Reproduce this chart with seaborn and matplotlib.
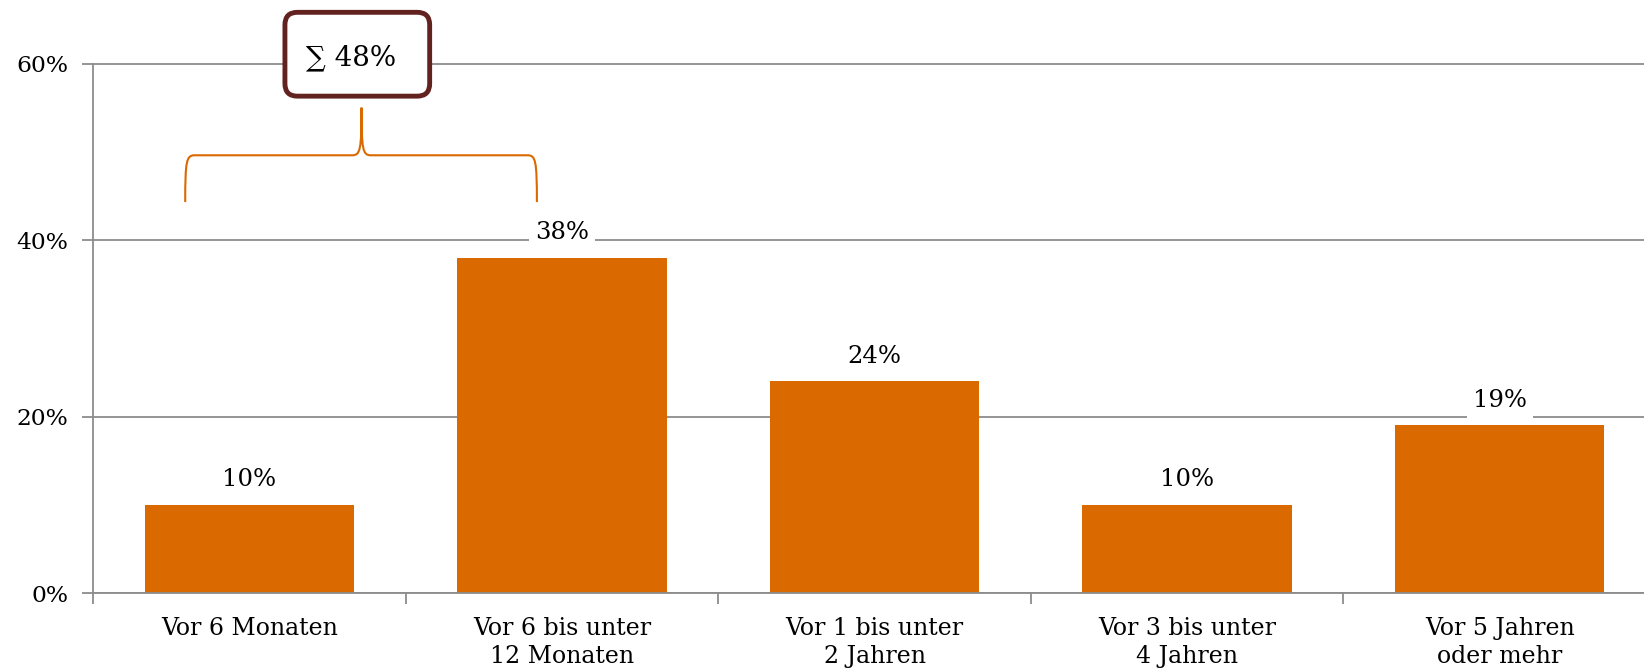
import matplotlib
matplotlib.use("Agg")
import matplotlib.pyplot as plt
import seaborn as sns
import pandas as pd
from matplotlib.patches import FancyBboxPatch, PathPatch
from matplotlib.path import Path

categories = ["Vor 6 Monaten", "Vor 6 bis unter\n12 Monaten", "Vor 1 bis unter\n2 Jahren",
              "Vor 3 bis unter\n4 Jahren", "Vor 5 Jahren\noder mehr"]
values = [10, 38, 24, 10, 19]
yticks = [0, 20, 40, 60]
ytick_labels = ["0%", "20%", "40%", "60%"]
sum_label = "∑ 48%"

sns.set_theme(style="white")
plt.rcParams['font.family'] = ['DejaVu Serif', 'DejaVu Sans']
plt.rcParams['text.color'] = 'black'
plt.rcParams['xtick.color'] = 'black'
plt.rcParams['ytick.color'] = 'black'

BAR = "#DA6900"
GRID = "#8C8C8C"

fig = plt.figure(figsize=(16.44, 6.68), dpi=100)
ax = fig.add_axes([93/1644, 75/668, 1563/1644, 593/668])

df = pd.DataFrame({"cat": categories, "val": values})
sns.barplot(data=df, x="cat", y="val", color=BAR, saturation=1, width=0.67, ax=ax,
            zorder=2, linewidth=0)

ax.set_xlim(-0.5, 4.5)
ax.set_ylim(0, 593/8.825)
ax.set_yticks(yticks)
ax.set_yticklabels(ytick_labels, fontsize=16.8)
ax.yaxis.grid(True, color=GRID, lw=1.3, zorder=0)
ax.set_axisbelow(True)
for s in ["top", "right"]:
    ax.spines[s].set_visible(False)
for s in ["left", "bottom"]:
    ax.spines[s].set_color(GRID)
    ax.spines[s].set_linewidth(1.3)
ax.spines["left"].set_bounds(0, 60)
ax.tick_params(axis="y", length=8, width=1.3, color=GRID, labelcolor="black", pad=10, left=True)
ax.set_xticks(range(len(categories)))
ax.set_xticklabels(categories, fontsize=17, linespacing=1.3)
ax.tick_params(axis="x", length=0, pad=17, labelcolor="black")
ax.set_xticks([i - 0.5 for i in range(len(categories) + 1)], minor=True)
ax.tick_params(axis="x", which="minor", length=8, width=1.3, color=GRID, bottom=True)
ax.set_xlabel("")
ax.set_ylabel("")

for i, v in enumerate(values):
    ax.annotate(f"{v}%", (i, v), xytext=(0, 18), textcoords="offset points",
                ha="center", va="center", fontsize=17.5, zorder=3, color="black",
                bbox=dict(boxstyle="square,pad=0.25", fc="white", ec="none"))

# brace
x0, x1, xc = -0.205, 0.92, 0.359
yb, yh, yp = 44.3, 49.6, 55.0
verts = [(x0, yb), (x0, yh - 0.6), (x0 + 0.004, yh), (x0 + 0.03, yh),
         (xc - 0.03, yh), (xc - 0.004, yh), (xc, yh + 0.6), (xc, yp),
         (xc, yh + 0.6), (xc + 0.004, yh), (xc + 0.03, yh),
         (x1 - 0.03, yh), (x1 - 0.004, yh), (x1, yh - 0.6), (x1, yb)]
codes = [Path.MOVETO, Path.CURVE4, Path.CURVE4, Path.CURVE4,
         Path.LINETO, Path.CURVE4, Path.CURVE4, Path.CURVE4,
         Path.CURVE4, Path.CURVE4, Path.CURVE4,
         Path.LINETO, Path.CURVE4, Path.CURVE4, Path.CURVE4]
ax.add_patch(PathPatch(Path(verts, codes), fill=False, ec=BAR, lw=1.5, zorder=4, clip_on=False))

# sum box
bx0, bx1 = 0.114, 0.577
by0, by1 = 56.3, 65.8
box = FancyBboxPatch((bx0, by0), bx1 - bx0, by1 - by0,
                     boxstyle="round,pad=0,rounding_size=0.04", mutation_aspect=35.4,
                     fc="white", ec="#612220", lw=3.5, zorder=5, clip_on=False)
ax.add_patch(box)
ax.text((bx0 + bx1) / 2 - 0.02, 60.6, sum_label, ha="center", va="center", fontsize=20,
        zorder=6, color="black", family=['DejaVu Serif', 'DejaVu Sans'])

fig.savefig("out.png", dpi=100)
